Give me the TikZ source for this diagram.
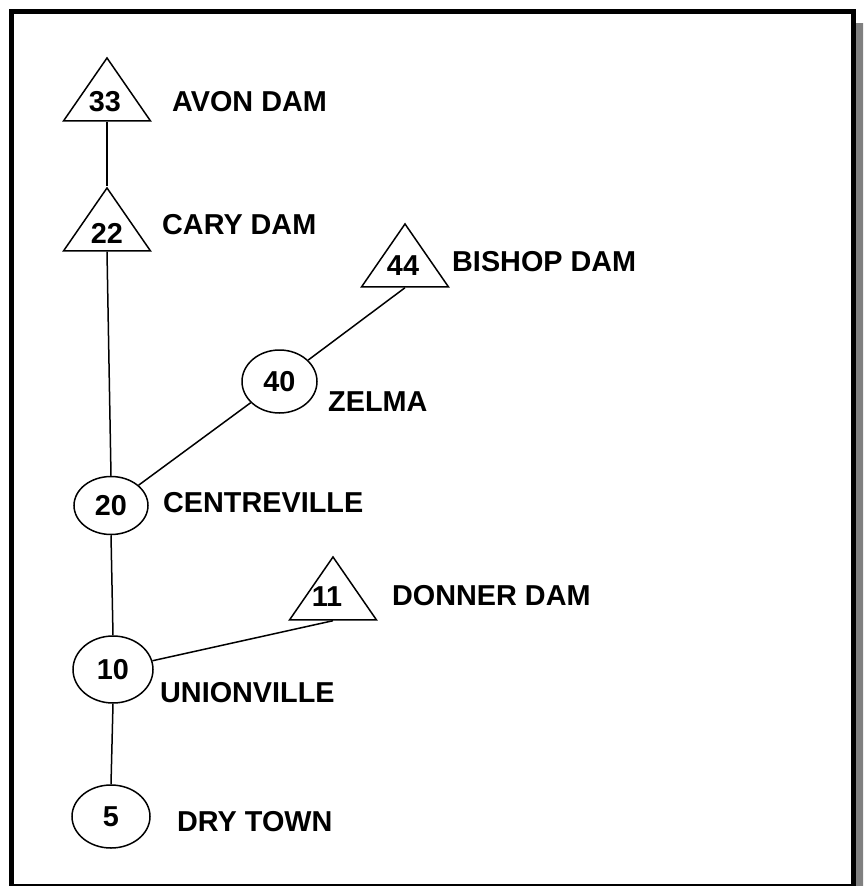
\documentclass[tikz,border=0pt]{standalone}
\usepackage{fontspec}
\setmainfont{Liberation Sans}
\usetikzlibrary{shapes.geometric}
\begin{document}
\begin{tikzpicture}[x=1pt,y=-1pt,
  lbl/.style={anchor=west, inner sep=0pt, font=\bfseries\fontsize{28.8}{34}\selectfont},
  num/.style={inner sep=0pt, font=\bfseries\fontsize{28.8}{34}\selectfont},
  town/.style={draw, ellipse, line width=1.5pt, inner sep=0pt, font=\bfseries\fontsize{28.8}{34}\selectfont},
  dam/.style={draw, isosceles triangle, isosceles triangle stretches, shape border rotate=90,
    line width=1.5pt, inner sep=0pt, minimum width=87pt, minimum height=63pt, anchor=apex},
  link/.style={line width=1.5pt}]
\useasboundingbox (0,0) rectangle (863,886);
\begin{scope}
  \clip (0,0) rectangle (863,886);
  \fill[gray] (856,23) rectangle (870,900);
  \draw[line width=5pt] (11,11.5) rectangle (853.5,886.5);
\end{scope}

% dams (triangles)
\node[dam] (t33) at (107,56) {};
\node[dam] (t22) at (107,186) {};
\node[dam] (t44) at (405,222) {};
\node[dam] (t11) at (333,555) {};
\node[num] (n33) at (105,102) {33};
\node[num] (n22) at (107,233) {22};
\node[num] (n44) at (403,266) {44};
\node[num] (n11) at (327,597) {11};

% towns (ellipses)
\node[town, minimum width=75pt, minimum height=63pt] (c40) at (279.5,381.5) {40};
\node[town, minimum width=74pt, minimum height=58pt] (c20) at (111,505.5) {20};
\node[town, minimum width=80pt, minimum height=67pt] (c10) at (113,669.5) {10};
\node[town, minimum width=78pt, minimum height=63pt] (c5)  at (111,816.5) {5};

% labels
\node[lbl] (l33) at (172,102) {AVON DAM};
\node[lbl] (l22) at (162,225) {CARY DAM};
\node[lbl] (l44) at (452,262) {BISHOP DAM};
\node[lbl] (l40) at (328,402) {ZELMA};
\node[lbl] (l20) at (163,503) {CENTREVILLE};
\node[lbl] (l11) at (392,596) {DONNER DAM};
\node[lbl] (l10) at (160,693) {UNIONVILLE};
\node[lbl] (l5)  at (177,822) {DRY TOWN};

% connectors
\draw[link] (t33.lower side) -- (t22.apex);
\draw[link] (t22.lower side) -- (c20.north);
\draw[link] (t44.lower side) -- (c40);
\draw[link] (c40) -- (c20);
\draw[link] (c20.south) -- (c10.north);
\draw[link] (c10) -- (t11.lower side);
\draw[link] (c10.south) -- (c5.north);
\end{tikzpicture}
\end{document}
